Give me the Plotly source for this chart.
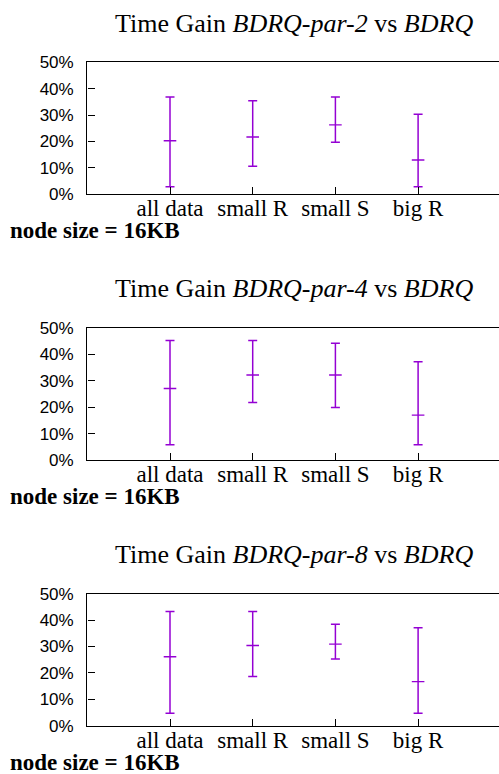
import plotly.graph_objects as go

categories = ["all data", "small R", "small S", "big R"]
variants = ["BDRQ-par-2", "BDRQ-par-4", "BDRQ-par-8"]

p2_mean = [20.3, 21.7, 26.3, 13.0]
p2_low = [2.9, 10.6, 19.7, 2.9]
p2_high = [36.9, 35.4, 36.9, 30.3]

p4_mean = [27.1, 32.2, 32.2, 17.0]
p4_low = [5.8, 21.8, 19.9, 5.8]
p4_high = [45.3, 45.3, 44.2, 37.2]

p8_mean = [26.1, 30.4, 30.9, 16.7]
p8_low = [4.7, 18.6, 25.3, 4.7]
p8_high = [43.3, 43.3, 38.4, 37.1]

y_ticks = [0, 10, 20, 30, 40, 50]
note_text = "node size = 16KB"

W, H = 499, 774
COLOR = "#9400D3"
SERIF = "Liberation Serif, Times New Roman, Times, serif"
SANS = "Liberation Sans, Arial, Helvetica, sans-serif"
panels = [(p2_mean, p2_low, p2_high), (p4_mean, p4_low, p4_high), (p8_mean, p8_low, p8_high)]
# pixel positions (top, bottom) of each plot area
rows_px = [(62.3, 194.3), (328.0, 460.0), (593.7, 725.7)]
x_left_px = 87.3
cat_step_px = 82.7

xs = list(range(1, len(categories) + 1))

fig = go.Figure()
layout = dict(
    width=W, height=H,
    margin=dict(l=0, r=0, t=0, b=0, autoexpand=False),
    paper_bgcolor="white", plot_bgcolor="white",
    showlegend=False,
    annotations=[],
)

for i, ((mean, low, high), (top, bot), name) in enumerate(zip(panels, rows_px, variants)):
    xa = "x" if i == 0 else f"x{i+1}"
    ya = "y" if i == 0 else f"y{i+1}"
    fig.add_trace(go.Scatter(
        x=xs, y=mean, mode="markers",
        xaxis=xa, yaxis=ya,
        marker=dict(symbol="line-ew", size=9, line=dict(color=COLOR, width=1.4), color=COLOR),
        error_y=dict(type="data", symmetric=False,
                     array=[h - m for h, m in zip(high, mean)],
                     arrayminus=[m - l for m, l in zip(mean, low)],
                     color=COLOR, thickness=1.5, width=4.5),
    ))
    xkey = "xaxis" if i == 0 else f"xaxis{i+1}"
    ykey = "yaxis" if i == 0 else f"yaxis{i+1}"
    ydom = [1 - bot / H, 1 - top / H]
    xr = (W - x_left_px) / cat_step_px
    layout[xkey] = dict(
        domain=[x_left_px / W, 1], range=[0, xr], anchor=ya,
        tickvals=xs, ticktext=categories,
        ticks="inside", ticklen=7, tickcolor="black", tickwidth=1.2,
        showline=True, linecolor="black", linewidth=1.4, mirror=True,
        showgrid=False, zeroline=False, automargin=False,
        ticklabelstandoff=-7,
        tickfont=dict(family=SERIF, size=23, color="black"),
    )
    layout[ykey] = dict(
        domain=ydom, range=[0, 50], anchor=xa,
        tickvals=y_ticks, ticktext=[f"{v}%" for v in y_ticks],
        ticks="inside", ticklen=7, tickcolor="black", tickwidth=1.2,
        showline=True, linecolor="black", linewidth=1.4, mirror=False,
        showgrid=False, zeroline=False, automargin=False,
        ticklabelstandoff=9,
        tickfont=dict(family=SANS, size=17, color="black"),
    )
    layout["annotations"].append(dict(
        text=f"Time Gain <i>{name}</i> vs <i>BDRQ</i>",
        xref="paper", yref="paper", x=294 / W, y=1 - (top - 22.5) / H,
        xanchor="center", yanchor="bottom", showarrow=False,
        font=dict(family=SERIF, size=26, color="black"),
    ))
    layout["annotations"].append(dict(
        text=f"<b>{note_text}</b>",
        xref="paper", yref="paper", x=8 / W, y=1 - (bot + 51) / H,
        xanchor="left", yanchor="bottom", showarrow=False,
        font=dict(family=SERIF, size=23, color="black"),
    ))

fig.update_layout(**layout)
fig.write_html(
    "out.html",
    config={"displayModeBar": False},
    post_script="document.body.style.margin='0';document.body.style.padding='0';"
                "document.documentElement.style.overflow='hidden';",
)
